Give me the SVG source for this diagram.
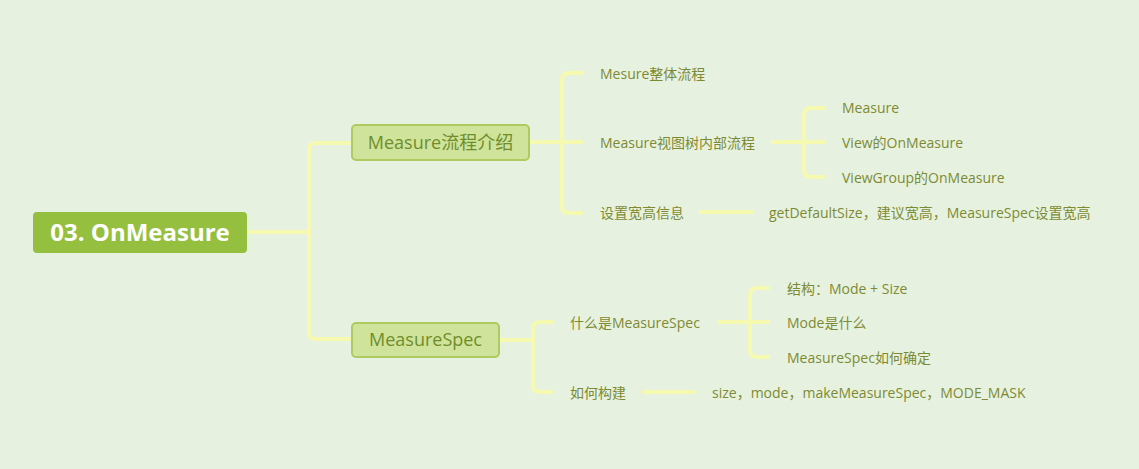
<svg xmlns="http://www.w3.org/2000/svg" width="1139" height="469" viewBox="0 0 1139 469">
<style>
.bg{fill:#E6F2DF}
.c{fill:none;stroke:#F5FAB0;stroke-width:4;stroke-linecap:butt;stroke-linejoin:round}
.root{fill:#95C03F}
.rt{font-family:"Open Sans","Noto Sans","Noto Sans CJK SC",sans-serif;font-weight:bold;font-size:24px;fill:#FFFFFF}
.box{fill:#CFE49A;stroke:#AECB62;stroke-width:2}
.bt{font-family:"Open Sans","Noto Sans","Noto Sans CJK SC",sans-serif;font-size:18px;fill:#6F8D2C}
.lt{font-family:"Open Sans","Noto Sans","Noto Sans CJK SC",sans-serif;font-size:14px;fill:#7E8A33}
</style>
<rect class="bg" x="0" y="0" width="1139" height="469"/>
<g id="connectors">
<path class="c" d="M247 232 H309"/>
<path class="c" d="M352 143 H316 Q309 143 309 150 V332 Q309 339 316 339 H352"/>
<path class="c" d="M529 142 H562"/>
<path class="c" d="M583 73 H569 Q562 73 562 80 V206 Q562 213 569 213 H583"/>
<path class="c" d="M562 142 H583"/>
<path class="c" d="M771 142 H825"/>
<path class="c" d="M825 108 H811 Q804 108 804 115 V170 Q804 177 811 177 H825"/>
<path class="c" d="M699 212 H753"/>
<path class="c" d="M499 340 H533"/>
<path class="c" d="M553 322 H540 Q533 322 533 329 V385 Q533 392 540 392 H553"/>
<path class="c" d="M717 322 H770"/>
<path class="c" d="M770 288 H757 Q750 288 750 295 V350 Q750 357 757 357 H770"/>
<path class="c" d="M642 392 H695"/>
</g>
<g id="root"><rect class="root" x="33" y="212" width="214" height="41" rx="4"/><text class="rt" x="140" y="241" text-anchor="middle">03. OnMeasure</text></g>
<g id="n-flow"><rect class="box" x="352" y="125" width="177" height="35" rx="4"/><text class="bt" x="440.5" y="149" text-anchor="middle">Measure流程介绍</text></g>
<g id="n-spec"><rect class="box" x="352" y="323" width="147" height="34" rx="4"/><text class="bt" x="425.5" y="346" text-anchor="middle">MeasureSpec</text></g>
<g id="n-whole"><text class="lt" x="600" y="79">Mesure整体流程</text></g>
<g id="n-tree"><text class="lt" x="600" y="148">Measure视图树内部流程</text></g>
<g id="n-measure"><text class="lt" x="842" y="113">Measure</text></g>
<g id="n-view"><text class="lt" x="842" y="148">View的OnMeasure</text></g>
<g id="n-vg"><text class="lt" x="842" y="183">ViewGroup的OnMeasure</text></g>
<g id="n-set"><text class="lt" x="600" y="218">设置宽高信息</text></g>
<g id="n-set-d"><text class="lt" x="769" y="218">getDefaultSize，建议宽高，MeasureSpec设置宽高</text></g>
<g id="n-what"><text class="lt" x="570" y="328">什么是MeasureSpec</text></g>
<g id="n-struct"><text class="lt" x="787" y="294">结构：Mode + Size</text></g>
<g id="n-mode"><text class="lt" x="787" y="328">Mode是什么</text></g>
<g id="n-how"><text class="lt" x="787" y="363">MeasureSpec如何确定</text></g>
<g id="n-build"><text class="lt" x="570" y="398">如何构建</text></g>
<g id="n-build-d"><text class="lt" x="712" y="398">size，mode，makeMeasureSpec，MODE_MASK</text></g>
</svg>
